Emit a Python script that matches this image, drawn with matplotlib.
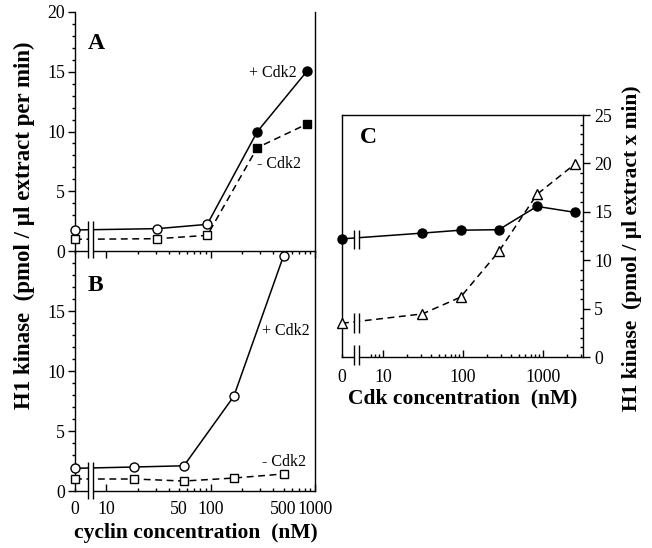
import matplotlib
matplotlib.use("Agg")
import matplotlib.pyplot as plt
from matplotlib.ticker import FixedLocator, FixedFormatter

plt.rcParams['font.family'] = ['Liberation Serif', 'DejaVu Serif']

# ---- data ----
# panel A: cyclin titration (nM), first value of each series is the "0" point
cyclin_a = [31, 93, 280, 840]
a_plus = [1.76, 1.87, 2.23, 9.98, 15.06]
a_minus = [0.98, 1.03, 1.31, 8.65, 10.63]
a_filled = [False, False, False, True, True]

# panel B
cyclin_b = [18.5, 55.6, 167, 500]
b_plus = [1.89, 2.0, 2.1, 7.89, 19.6]
b_minus = [1.0, 1.0, 0.83, 1.08, 1.42]

# panel C: Cdk titration (nM)
cdk_c = [31, 93, 280, 840, 2520]
c_circle = [12.2, 12.8, 13.1, 13.15, 15.56, 14.94]
c_triangle = [3.49, 4.45, 6.18, 10.9, 16.8, 19.95]

# where "0" sits on the log axes (left edge) and where the breaks go
X0_AB, XMAX_AB = 5.04, 1000
X0_C, XMAX_C = 3.07, 3160
BRK_AB = (6.73, 7.51)
BRK_C = (4.34, 5.01)

TICK_FS = 12.8

W, H = 652, 548
fig = plt.figure(figsize=(W / 100, H / 100), dpi=100)
axA = fig.add_axes([75 / W, 1 - 251 / H, 240 / W, 239 / H])
axB = fig.add_axes([75 / W, 1 - 491 / H, 240 / W, 240 / H])
axC = fig.add_axes([342 / W, 1 - 357 / H, 241 / W, 242 / H])
for ax in (axA, axB, axC):
    ax.patch.set_visible(False)
    for s in ax.spines.values():
        s.set_linewidth(1.0)


def axis_break(ax, xs, y0, y1):
    ax.fill_between(list(xs), y0, y1, color='white', lw=0, zorder=5, clip_on=False)
    ax.vlines(list(xs), y0, y1, color='black', lw=1.0, zorder=6, clip_on=False)


def series(ax, x, y, marker, ms, dashed=False, filled=None):
    ls = (0, (4.5, 3)) if dashed else '-'
    ax.plot(x, y, color='black', lw=1.1, ls=ls, zorder=3, clip_on=False)
    if filled is None:
        filled = [False] * len(x)
    for xi, yi, f in zip(x, y, filled):
        ax.plot(xi, yi, marker=marker, ms=ms, mec='black', mew=1.0,
                mfc='black' if f else 'white', zorder=7, clip_on=False)


minor_ab = [X0_AB] + [m * d for d in (10, 100) for m in range(2, 10)]

for ax in (axA, axB):
    ax.set_xscale('log')
    ax.set_xlim(X0_AB, XMAX_AB)
    ax.set_ylim(0, 20)
    ax.spines['top'].set_visible(False)
    ax.xaxis.set_major_locator(FixedLocator([10, 100, 1000]))
    ax.xaxis.set_minor_locator(FixedLocator(minor_ab))
    ax.yaxis.set_minor_locator(FixedLocator([v for v in range(0, 21) if v % 5]))
    ax.tick_params(axis='y', which='major', direction='out', length=5, width=1,
                   labelsize=TICK_FS, pad=2)
    ax.tick_params(axis='y', which='minor', direction='out', length=2.5, width=1)

axA.yaxis.set_major_locator(FixedLocator([0, 5, 10, 15, 20]))
axA.tick_params(axis='x', which='major', direction='out', length=5, width=1,
                labelbottom=False)
axA.tick_params(axis='x', which='minor', direction='out', length=2.5, width=1,
                labelbottom=False)

axB.yaxis.set_major_locator(FixedLocator([0, 5, 10, 15]))
axB.xaxis.set_major_formatter(FixedFormatter(['10', '100', '1000']))
axB.xaxis.set_minor_formatter(FixedFormatter(
    ['0' if v == X0_AB else ('50' if v == 50 else ('500' if v == 500 else ''))
     for v in minor_ab]))
axB.tick_params(axis='x', which='major', direction='in', length=5, width=1,
                labelsize=TICK_FS, pad=7)
axB.tick_params(axis='x', which='minor', direction='in', length=2.5, width=1,
                labelsize=TICK_FS, pad=7)

# panel A
series(axA, [X0_AB] + cyclin_a, a_plus, 'o', 6.5, filled=a_filled)
series(axA, [X0_AB] + cyclin_a, a_minus, 's', 6, dashed=True, filled=a_filled)
axis_break(axA, BRK_AB, -0.6, 2.5)
axA.text(0.054, 0.87, 'A', transform=axA.transAxes, fontsize=17,
         fontweight='bold', va='center', ha='left')
axA.text(673, 14.9, '+ Cdk2', fontsize=11.5, ha='right', va='center')
axA.text(279, 7.28, '- Cdk2', fontsize=11.5, ha='left', va='center')

# panel B
series(axB, [X0_AB] + cyclin_b, b_plus, 'o', 6.5)
series(axB, [X0_AB] + cyclin_b, b_minus, 's', 6, dashed=True)
axis_break(axB, BRK_AB, -0.67, 2.4)
axB.text(0.054, 0.858, 'B', transform=axB.transAxes, fontsize=17,
         fontweight='bold', va='center', ha='left')
axB.text(311, 13.3, '+ Cdk2', fontsize=11.5, ha='left', va='center')
axB.text(311, 2.42, '- Cdk2', fontsize=11.5, ha='left', va='center')

# panel C
minor_c = [X0_C, 7, 8, 9] + [m * d for d in (10, 100) for m in range(2, 10)] + [2000, 3000]
axC.set_xscale('log')
axC.set_xlim(X0_C, XMAX_C)
axC.set_ylim(0, 25)
axC.xaxis.set_major_locator(FixedLocator([10, 100, 1000]))
axC.xaxis.set_minor_locator(FixedLocator(minor_c))
axC.xaxis.set_major_formatter(FixedFormatter(['10', '100', '1000']))
axC.xaxis.set_minor_formatter(FixedFormatter(['0' if v == X0_C else '' for v in minor_c]))
axC.tick_params(axis='x', which='major', direction='in', length=5, width=1,
                labelsize=TICK_FS, pad=9)
axC.tick_params(axis='x', which='minor', direction='in', length=2.5, width=1,
                labelsize=TICK_FS, pad=9)
axC.yaxis.tick_right()
axC.yaxis.set_major_locator(FixedLocator([0, 5, 10, 15, 20, 25]))
axC.yaxis.set_minor_locator(FixedLocator([v for v in range(0, 26) if v % 5]))
axC.tick_params(axis='y', which='major', direction='out', length=5, width=1,
                labelsize=TICK_FS, pad=3, left=False, right=True)
axC.tick_params(axis='y', which='minor', direction='in', length=2.5, width=1,
                left=False, right=True)

series(axC, [X0_C] + cdk_c, c_circle, 'o', 6.5, filled=[True] * 6)
series(axC, [X0_C] + cdk_c, c_triangle, '^', 6.5, dashed=True)
axis_break(axC, BRK_C, 11.2, 13.1)
axis_break(axC, BRK_C, 2.5, 4.55)
axis_break(axC, BRK_C, -0.8, 1.24)
axC.text(0.075, 0.909, 'C', transform=axC.transAxes, fontsize=17,
         fontweight='bold', va='center', ha='left')

# axis titles
fig.text(24 / W, 1 - 225 / H, 'H1 kinase  (pmol / µl extract per min)',
         rotation=90, fontsize=16.5, fontweight='bold', ha='center', va='center')
fig.text(632 / W, 1 - 248 / H, 'H1 kinase  (pmol / µl extract x min)',
         rotation=90, fontsize=15.5, fontweight='bold', ha='center', va='center')
fig.text(196 / W, 1 - 533 / H, 'cyclin concentration  (nM)',
         fontsize=15.5, fontweight='bold', ha='center', va='center')
fig.text(463 / W, 1 - 398 / H, 'Cdk concentration  (nM)',
         fontsize=15.5, fontweight='bold', ha='center', va='center')

fig.savefig('out.png', dpi=100, facecolor='white')
